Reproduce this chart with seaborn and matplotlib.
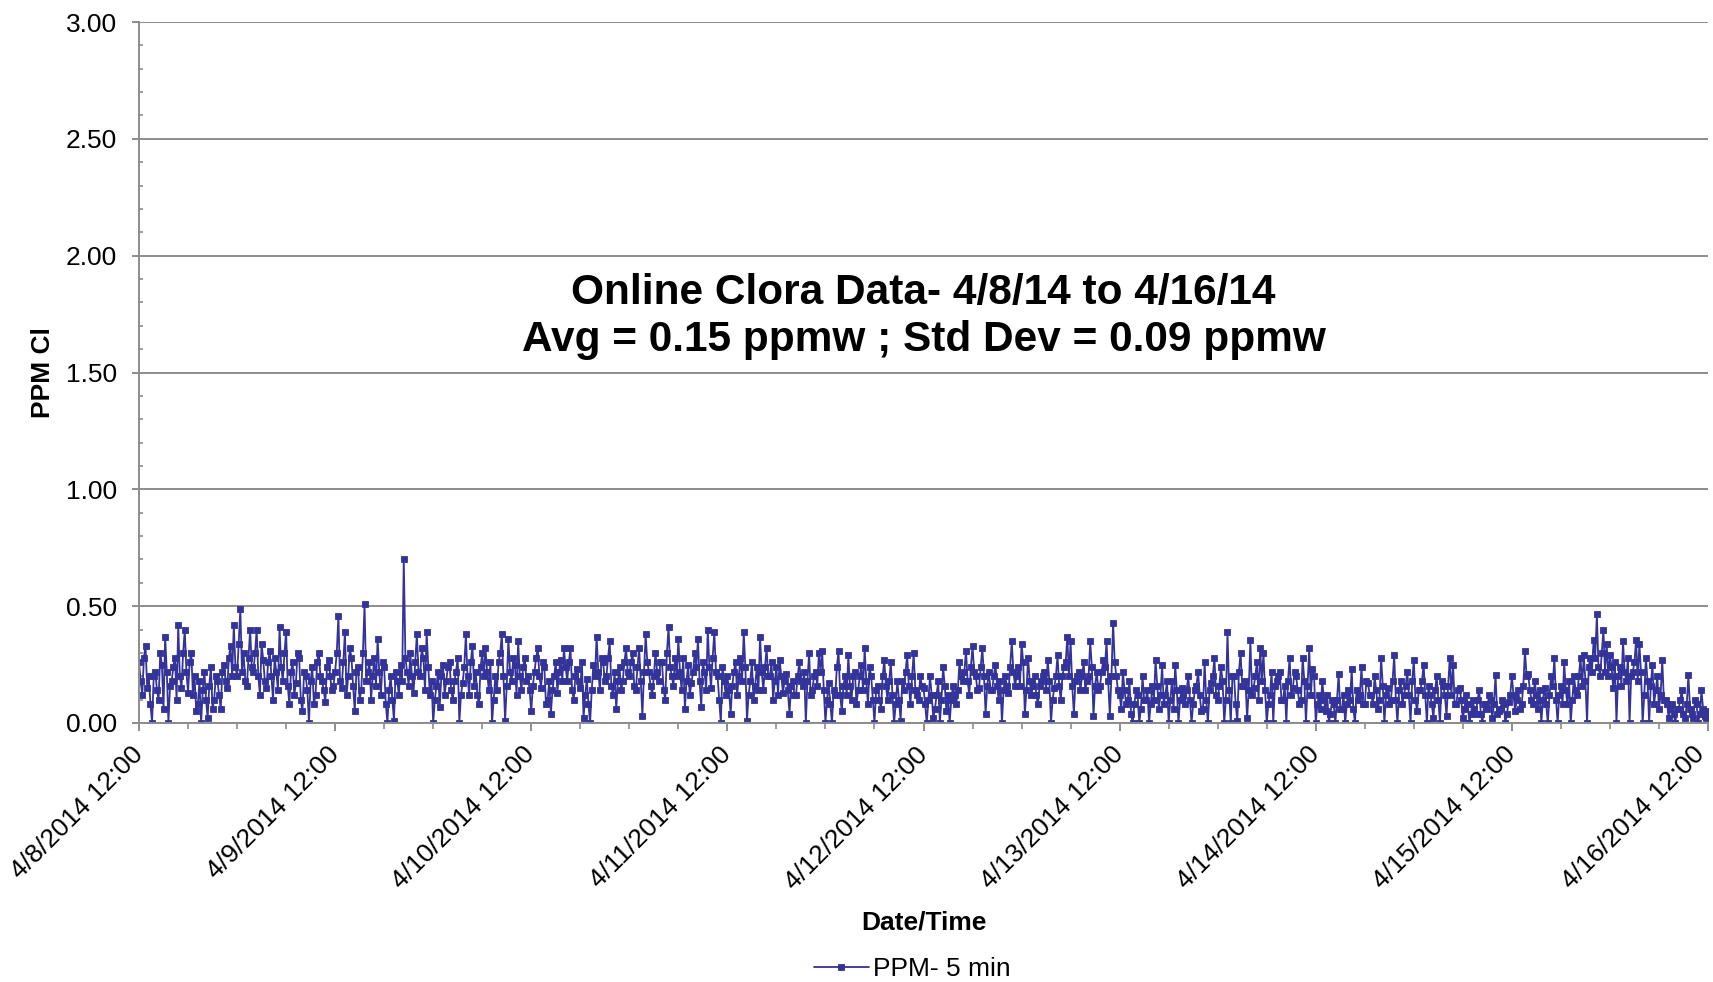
import numpy as np
import pandas as pd
import matplotlib
matplotlib.use("Agg")
import matplotlib.pyplot as plt
import matplotlib.ticker as mticker
import matplotlib.transforms as mtransforms
import seaborn as sns

# ---- data (12-minute sampling) ----
# "a" lists: readings on the 24-min grid; "b" lists: readings 12 min later
start_time = "2014-04-08 12:00"
sample_step = "12min"

day1_a = [0.26, 0.12, 0.33, 0.20, 0.00, 0.22, 0.10, 0.25, 0.37, 0.00,
          0.18, 0.28, 0.42, 0.15, 0.40, 0.13, 0.30, 0.20, 0.08, 0.00,
          0.22, 0.02, 0.24, 0.10, 0.18, 0.06, 0.25, 0.15, 0.33, 0.42,
          0.20, 0.49, 0.30, 0.16, 0.40, 0.22, 0.40, 0.12, 0.27, 0.15,
          0.31, 0.10, 0.22, 0.41, 0.18, 0.39, 0.08, 0.26, 0.17, 0.28,
          0.05, 0.20, 0.00, 0.24, 0.12, 0.30, 0.18, 0.09, 0.27, 0.14]
day1_b = [0.18, 0.28, 0.15, 0.08, 0.20, 0.14, 0.30, 0.06, 0.22, 0.16,
          0.24, 0.10, 0.20, 0.30, 0.22, 0.26, 0.12, 0.05, 0.18, 0.14,
          0.10, 0.16, 0.06, 0.20, 0.12, 0.22, 0.18, 0.28, 0.20, 0.24,
          0.34, 0.22, 0.18, 0.28, 0.24, 0.30, 0.20, 0.34, 0.18, 0.26,
          0.20, 0.28, 0.14, 0.24, 0.30, 0.16, 0.22, 0.12, 0.30, 0.10,
          0.22, 0.14, 0.18, 0.08, 0.26, 0.20, 0.14, 0.24, 0.20, 0.16]
day2_a = [0.22, 0.46, 0.15, 0.39, 0.20, 0.28, 0.05, 0.24, 0.14, 0.51,
          0.22, 0.10, 0.28, 0.36, 0.12, 0.24, 0.00, 0.20, 0.01, 0.18,
          0.25, 0.70, 0.22, 0.30, 0.13, 0.38, 0.20, 0.28, 0.39, 0.12,
          0.00, 0.16, 0.07, 0.25, 0.18, 0.26, 0.10, 0.22, 0.00, 0.17,
          0.38, 0.12, 0.33, 0.22, 0.08, 0.30, 0.32, 0.14, 0.00, 0.20,
          0.26, 0.38, 0.01, 0.36, 0.18, 0.25, 0.35, 0.14, 0.28, 0.20]
day2_b = [0.30, 0.18, 0.26, 0.12, 0.32, 0.16, 0.22, 0.10, 0.30, 0.18,
          0.26, 0.20, 0.16, 0.22, 0.26, 0.08, 0.14, 0.10, 0.22, 0.12,
          0.18, 0.28, 0.16, 0.20, 0.26, 0.22, 0.32, 0.14, 0.24, 0.18,
          0.10, 0.22, 0.20, 0.12, 0.24, 0.14, 0.18, 0.28, 0.12, 0.24,
          0.20, 0.26, 0.16, 0.12, 0.24, 0.20, 0.22, 0.26, 0.10, 0.14,
          0.30, 0.20, 0.16, 0.22, 0.28, 0.12, 0.20, 0.24, 0.18, 0.14]
day3_a = [0.05, 0.22, 0.32, 0.15, 0.24, 0.10, 0.04, 0.20, 0.13, 0.27,
          0.32, 0.18, 0.32, 0.10, 0.23, 0.15, 0.02, 0.19, 0.00, 0.25,
          0.37, 0.14, 0.26, 0.20, 0.35, 0.12, 0.06, 0.24, 0.18, 0.32,
          0.20, 0.30, 0.14, 0.32, 0.03, 0.38, 0.22, 0.12, 0.30, 0.18,
          0.26, 0.10, 0.41, 0.20, 0.28, 0.36, 0.14, 0.06, 0.25, 0.17,
          0.30, 0.36, 0.07, 0.22, 0.40, 0.15, 0.39, 0.20, 0.00, 0.18]
day3_b = [0.16, 0.28, 0.20, 0.26, 0.08, 0.18, 0.14, 0.26, 0.22, 0.18,
          0.24, 0.26, 0.14, 0.20, 0.18, 0.26, 0.12, 0.08, 0.14, 0.20,
          0.22, 0.28, 0.18, 0.28, 0.16, 0.22, 0.18, 0.14, 0.26, 0.22,
          0.26, 0.16, 0.24, 0.18, 0.22, 0.26, 0.16, 0.20, 0.22, 0.26,
          0.14, 0.30, 0.24, 0.16, 0.20, 0.22, 0.28, 0.18, 0.12, 0.22,
          0.24, 0.18, 0.26, 0.14, 0.24, 0.28, 0.22, 0.10, 0.24, 0.12]
day4_a = [0.20, 0.04, 0.22, 0.12, 0.28, 0.39, 0.01, 0.18, 0.10, 0.24,
          0.37, 0.14, 0.32, 0.20, 0.10, 0.24, 0.27, 0.13, 0.21, 0.04,
          0.18, 0.12, 0.26, 0.16, 0.00, 0.30, 0.14, 0.22, 0.30, 0.31,
          0.00, 0.17, 0.00, 0.12, 0.31, 0.05, 0.20, 0.29, 0.10, 0.22,
          0.14, 0.25, 0.32, 0.08, 0.20, 0.00, 0.16, 0.06, 0.27, 0.10,
          0.26, 0.00, 0.18, 0.01, 0.14, 0.29, 0.08, 0.30, 0.12, 0.20]
day4_b = [0.14, 0.16, 0.26, 0.20, 0.18, 0.24, 0.12, 0.26, 0.16, 0.14,
          0.22, 0.24, 0.20, 0.26, 0.18, 0.12, 0.20, 0.18, 0.14, 0.16,
          0.12, 0.20, 0.18, 0.22, 0.18, 0.12, 0.20, 0.16, 0.22, 0.14,
          0.10, 0.08, 0.14, 0.24, 0.12, 0.16, 0.12, 0.16, 0.20, 0.08,
          0.20, 0.14, 0.18, 0.24, 0.10, 0.14, 0.10, 0.20, 0.16, 0.18,
          0.12, 0.08, 0.10, 0.18, 0.22, 0.16, 0.20, 0.14, 0.10, 0.16]
day5_a = [0.15, 0.00, 0.20, 0.02, 0.12, 0.00, 0.24, 0.05, 0.00, 0.16,
          0.08, 0.26, 0.18, 0.31, 0.12, 0.33, 0.20, 0.15, 0.32, 0.04,
          0.22, 0.14, 0.25, 0.10, 0.00, 0.20, 0.13, 0.35, 0.16, 0.24,
          0.34, 0.04, 0.28, 0.12, 0.20, 0.08, 0.18, 0.22, 0.27, 0.00,
          0.15, 0.29, 0.10, 0.24, 0.37, 0.35, 0.04, 0.20, 0.14, 0.26,
          0.18, 0.35, 0.03, 0.22, 0.16, 0.27, 0.35, 0.03, 0.43, 0.20]
day5_b = [0.08, 0.10, 0.12, 0.06, 0.18, 0.10, 0.16, 0.12, 0.10, 0.12,
          0.14, 0.20, 0.22, 0.18, 0.24, 0.22, 0.14, 0.24, 0.20, 0.16,
          0.14, 0.20, 0.16, 0.18, 0.14, 0.16, 0.24, 0.22, 0.20, 0.16,
          0.26, 0.14, 0.18, 0.16, 0.12, 0.16, 0.20, 0.14, 0.18, 0.10,
          0.20, 0.16, 0.20, 0.26, 0.20, 0.16, 0.18, 0.22, 0.20, 0.14,
          0.20, 0.24, 0.16, 0.14, 0.22, 0.24, 0.18, 0.20, 0.26, 0.14]
day6_a = [0.12, 0.22, 0.08, 0.18, 0.00, 0.14, 0.00, 0.20, 0.10, 0.00,
          0.16, 0.27, 0.06, 0.25, 0.12, 0.00, 0.18, 0.25, 0.00, 0.15,
          0.08, 0.20, 0.00, 0.14, 0.22, 0.05, 0.26, 0.00, 0.17, 0.28,
          0.10, 0.24, 0.00, 0.39, 0.00, 0.20, 0.01, 0.30, 0.16, 0.02,
          0.355, 0.15, 0.26, 0.32, 0.30, 0.00, 0.12, 0.00, 0.18, 0.22,
          0.10, 0.00, 0.28, 0.15, 0.20, 0.08, 0.28, 0.00, 0.32, 0.23]
day6_b = [0.06, 0.14, 0.10, 0.04, 0.08, 0.12, 0.06, 0.10, 0.14, 0.08,
          0.10, 0.16, 0.12, 0.08, 0.18, 0.10, 0.06, 0.14, 0.10, 0.12,
          0.14, 0.10, 0.08, 0.16, 0.12, 0.06, 0.10, 0.14, 0.20, 0.12,
          0.16, 0.18, 0.10, 0.14, 0.20, 0.08, 0.22, 0.16, 0.18, 0.14,
          0.12, 0.20, 0.10, 0.18, 0.14, 0.08, 0.22, 0.16, 0.20, 0.10,
          0.16, 0.18, 0.12, 0.22, 0.14, 0.10, 0.18, 0.16, 0.12, 0.20]
day7_a = [0.00, 0.12, 0.18, 0.05, 0.00, 0.10, 0.00, 0.21, 0.06, 0.00,
          0.14, 0.23, 0.00, 0.10, 0.24, 0.08, 0.17, 0.12, 0.20, 0.06,
          0.28, 0.00, 0.15, 0.10, 0.29, 0.00, 0.18, 0.12, 0.22, 0.00,
          0.27, 0.05, 0.14, 0.25, 0.00, 0.12, 0.02, 0.20, 0.00, 0.16,
          0.03, 0.28, 0.25, 0.08, 0.15, 0.02, 0.12, 0.00, 0.10, 0.04,
          0.14, 0.00, 0.08, 0.12, 0.02, 0.205, 0.05, 0.10, 0.00, 0.09]
day7_b = [0.08, 0.06, 0.10, 0.12, 0.04, 0.08, 0.10, 0.06, 0.12, 0.08,
          0.10, 0.06, 0.14, 0.12, 0.08, 0.18, 0.12, 0.08, 0.14, 0.10,
          0.16, 0.12, 0.08, 0.18, 0.10, 0.14, 0.08, 0.16, 0.12, 0.18,
          0.10, 0.14, 0.18, 0.12, 0.16, 0.08, 0.14, 0.10, 0.18, 0.12,
          0.16, 0.12, 0.08, 0.14, 0.10, 0.06, 0.08, 0.04, 0.06, 0.10,
          0.04, 0.08, 0.06, 0.10, 0.08, 0.04, 0.06, 0.08, 0.04, 0.12]
day8_a = [0.20, 0.05, 0.14, 0.08, 0.31, 0.21, 0.10, 0.18, 0.06, 0.00,
          0.15, 0.00, 0.20, 0.28, 0.00, 0.16, 0.26, 0.08, 0.00, 0.20,
          0.12, 0.28, 0.29, 0.00, 0.28, 0.355, 0.465, 0.20, 0.40, 0.34,
          0.29, 0.15, 0.00, 0.24, 0.35, 0.18, 0.00, 0.22, 0.355, 0.34,
          0.00, 0.28, 0.00, 0.25, 0.14, 0.06, 0.27, 0.10, 0.02, 0.08,
          0.00, 0.06, 0.14, 0.02, 0.205, 0.04, 0.10, 0.00, 0.14, 0.03]
day8_b = [0.12, 0.10, 0.06, 0.16, 0.20, 0.14, 0.08, 0.12, 0.14, 0.10,
          0.08, 0.12, 0.16, 0.10, 0.12, 0.08, 0.14, 0.18, 0.10, 0.14,
          0.20, 0.16, 0.18, 0.24, 0.22, 0.28, 0.24, 0.30, 0.22, 0.20,
          0.24, 0.26, 0.20, 0.16, 0.22, 0.28, 0.20, 0.26, 0.18, 0.22,
          0.12, 0.18, 0.16, 0.08, 0.20, 0.12, 0.10, 0.08, 0.06, 0.04,
          0.06, 0.10, 0.04, 0.08, 0.06, 0.02, 0.08, 0.04, 0.06, 0.02]
last_ppm = [0.05]

x_tick_labels = ["4/8/2014 12:00", "4/9/2014 12:00", "4/10/2014 12:00",
                 "4/11/2014 12:00", "4/12/2014 12:00", "4/13/2014 12:00",
                 "4/14/2014 12:00", "4/15/2014 12:00", "4/16/2014 12:00"]
y_ticks = [0.0, 0.5, 1.0, 1.5, 2.0, 2.5, 3.0]
y_tick_labels = ["0.00", "0.50", "1.00", "1.50", "2.00", "2.50", "3.00"]
title_text = "Online Clora Data- 4/8/14 to 4/16/14\nAvg = 0.15 ppmw ; Std Dev = 0.09 ppmw"
series_name = "PPM- 5 min"

day_pairs = [(day1_a, day1_b), (day2_a, day2_b), (day3_a, day3_b), (day4_a, day4_b),
             (day5_a, day5_b), (day6_a, day6_b), (day7_a, day7_b), (day8_a, day8_b)]
ppm = []
for a_vals, b_vals in day_pairs:
    for va, vb in zip(a_vals, b_vals):
        ppm.extend([va, vb])
ppm += last_ppm
times = pd.date_range(start_time, periods=len(ppm), freq=sample_step)
df = pd.DataFrame({"Date/Time": times, "PPM Cl": ppm})

# ---- style ----
sns.set_theme(style="white")
plt.rcParams["font.family"] = ["Liberation Sans", "DejaVu Sans"]
plt.rcParams["text.color"] = "black"
plt.rcParams["axes.labelcolor"] = "black"
plt.rcParams["xtick.color"] = "black"
plt.rcParams["ytick.color"] = "black"

fig = plt.figure(figsize=(17.13, 9.82), dpi=100)
ax = fig.add_axes([139 / 1713, 1 - 723 / 982, (1708 - 139) / 1713, (723 - 22) / 982])

line_color = "#333399"
sns.lineplot(data=df, x="Date/Time", y="PPM Cl", ax=ax, color=line_color,
             linewidth=1.3, marker="s", markersize=4.8, markeredgewidth=0.6,
             markeredgecolor=line_color, markerfacecolor=line_color,
             label=series_name, legend=False)

ax.set_ylim(0, 3)
ax.set_xlim(times[0], times[-1])

fs = 19
major_x = pd.date_range(start_time, periods=9, freq="D")
minor_x = pd.date_range(start_time, periods=33, freq="6h")
ax.set_xticks(major_x)
ax.set_xticks(minor_x, minor=True)
ax.set_xticklabels(x_tick_labels, rotation=45, ha="right", va="center",
                   rotation_mode="anchor", fontsize=fs)
ax.set_yticks(y_ticks)
ax.set_yticklabels(y_tick_labels, fontsize=fs)
ax.yaxis.set_minor_locator(mticker.MultipleLocator(0.1))

grid_color = "#8c8c8c"
ax.grid(axis="y", which="major", color=grid_color, linewidth=1.4)
ax.set_axisbelow(True)
for s in ["top", "right"]:
    ax.spines[s].set_visible(False)
for s in ["left", "bottom"]:
    ax.spines[s].set_color(grid_color)
    ax.spines[s].set_linewidth(1.4)

ax.tick_params(axis="x", which="major", direction="out", length=6, width=1.4,
               color=grid_color, pad=14, bottom=True, labelcolor="black")
ax.tick_params(axis="x", which="minor", direction="out", length=4, width=1.2,
               color=grid_color, bottom=True)
ax.tick_params(axis="y", which="major", direction="out", length=5, width=1.4,
               color=grid_color, pad=11, left=True, labelcolor="black")
ax.tick_params(axis="y", which="minor", direction="in", length=3, width=1.2,
               color=grid_color, left=True)

# keep the last rotated date label inside the canvas (after tick_params, which resets transforms)
last_tick = ax.xaxis.get_major_ticks()[-1]
last_tick.label1.set_transform(last_tick.label1.get_transform() +
                               mtransforms.ScaledTranslation(-7 / 100, 0, fig.dpi_scale_trans))

ax.set_xlabel("Date/Time", fontsize=fs, fontweight="bold", labelpad=0, color="black")
ax.xaxis.set_label_coords(0.5, -(910 - 723) / 701)
ax.set_ylabel("PPM Cl", fontsize=fs, fontweight="bold", color="black")
ax.yaxis.set_label_coords(-(139 - 55) / 1569, (723 - 373) / 701)

ax.text(0.5, 0.580, title_text, transform=ax.transAxes, ha="center", va="center",
        fontsize=30.5, fontweight="bold", linespacing=1.25, color="black")

handles, labels = ax.get_legend_handles_labels()
leg = fig.legend(handles, labels, loc="center", bbox_to_anchor=(912 / 1713, 1 - 969 / 982),
                 frameon=False, fontsize=fs, handlelength=2.1, handletextpad=0.15)
for t in leg.get_texts():
    t.set_color("black")

fig.savefig("out.png", dpi=100)
